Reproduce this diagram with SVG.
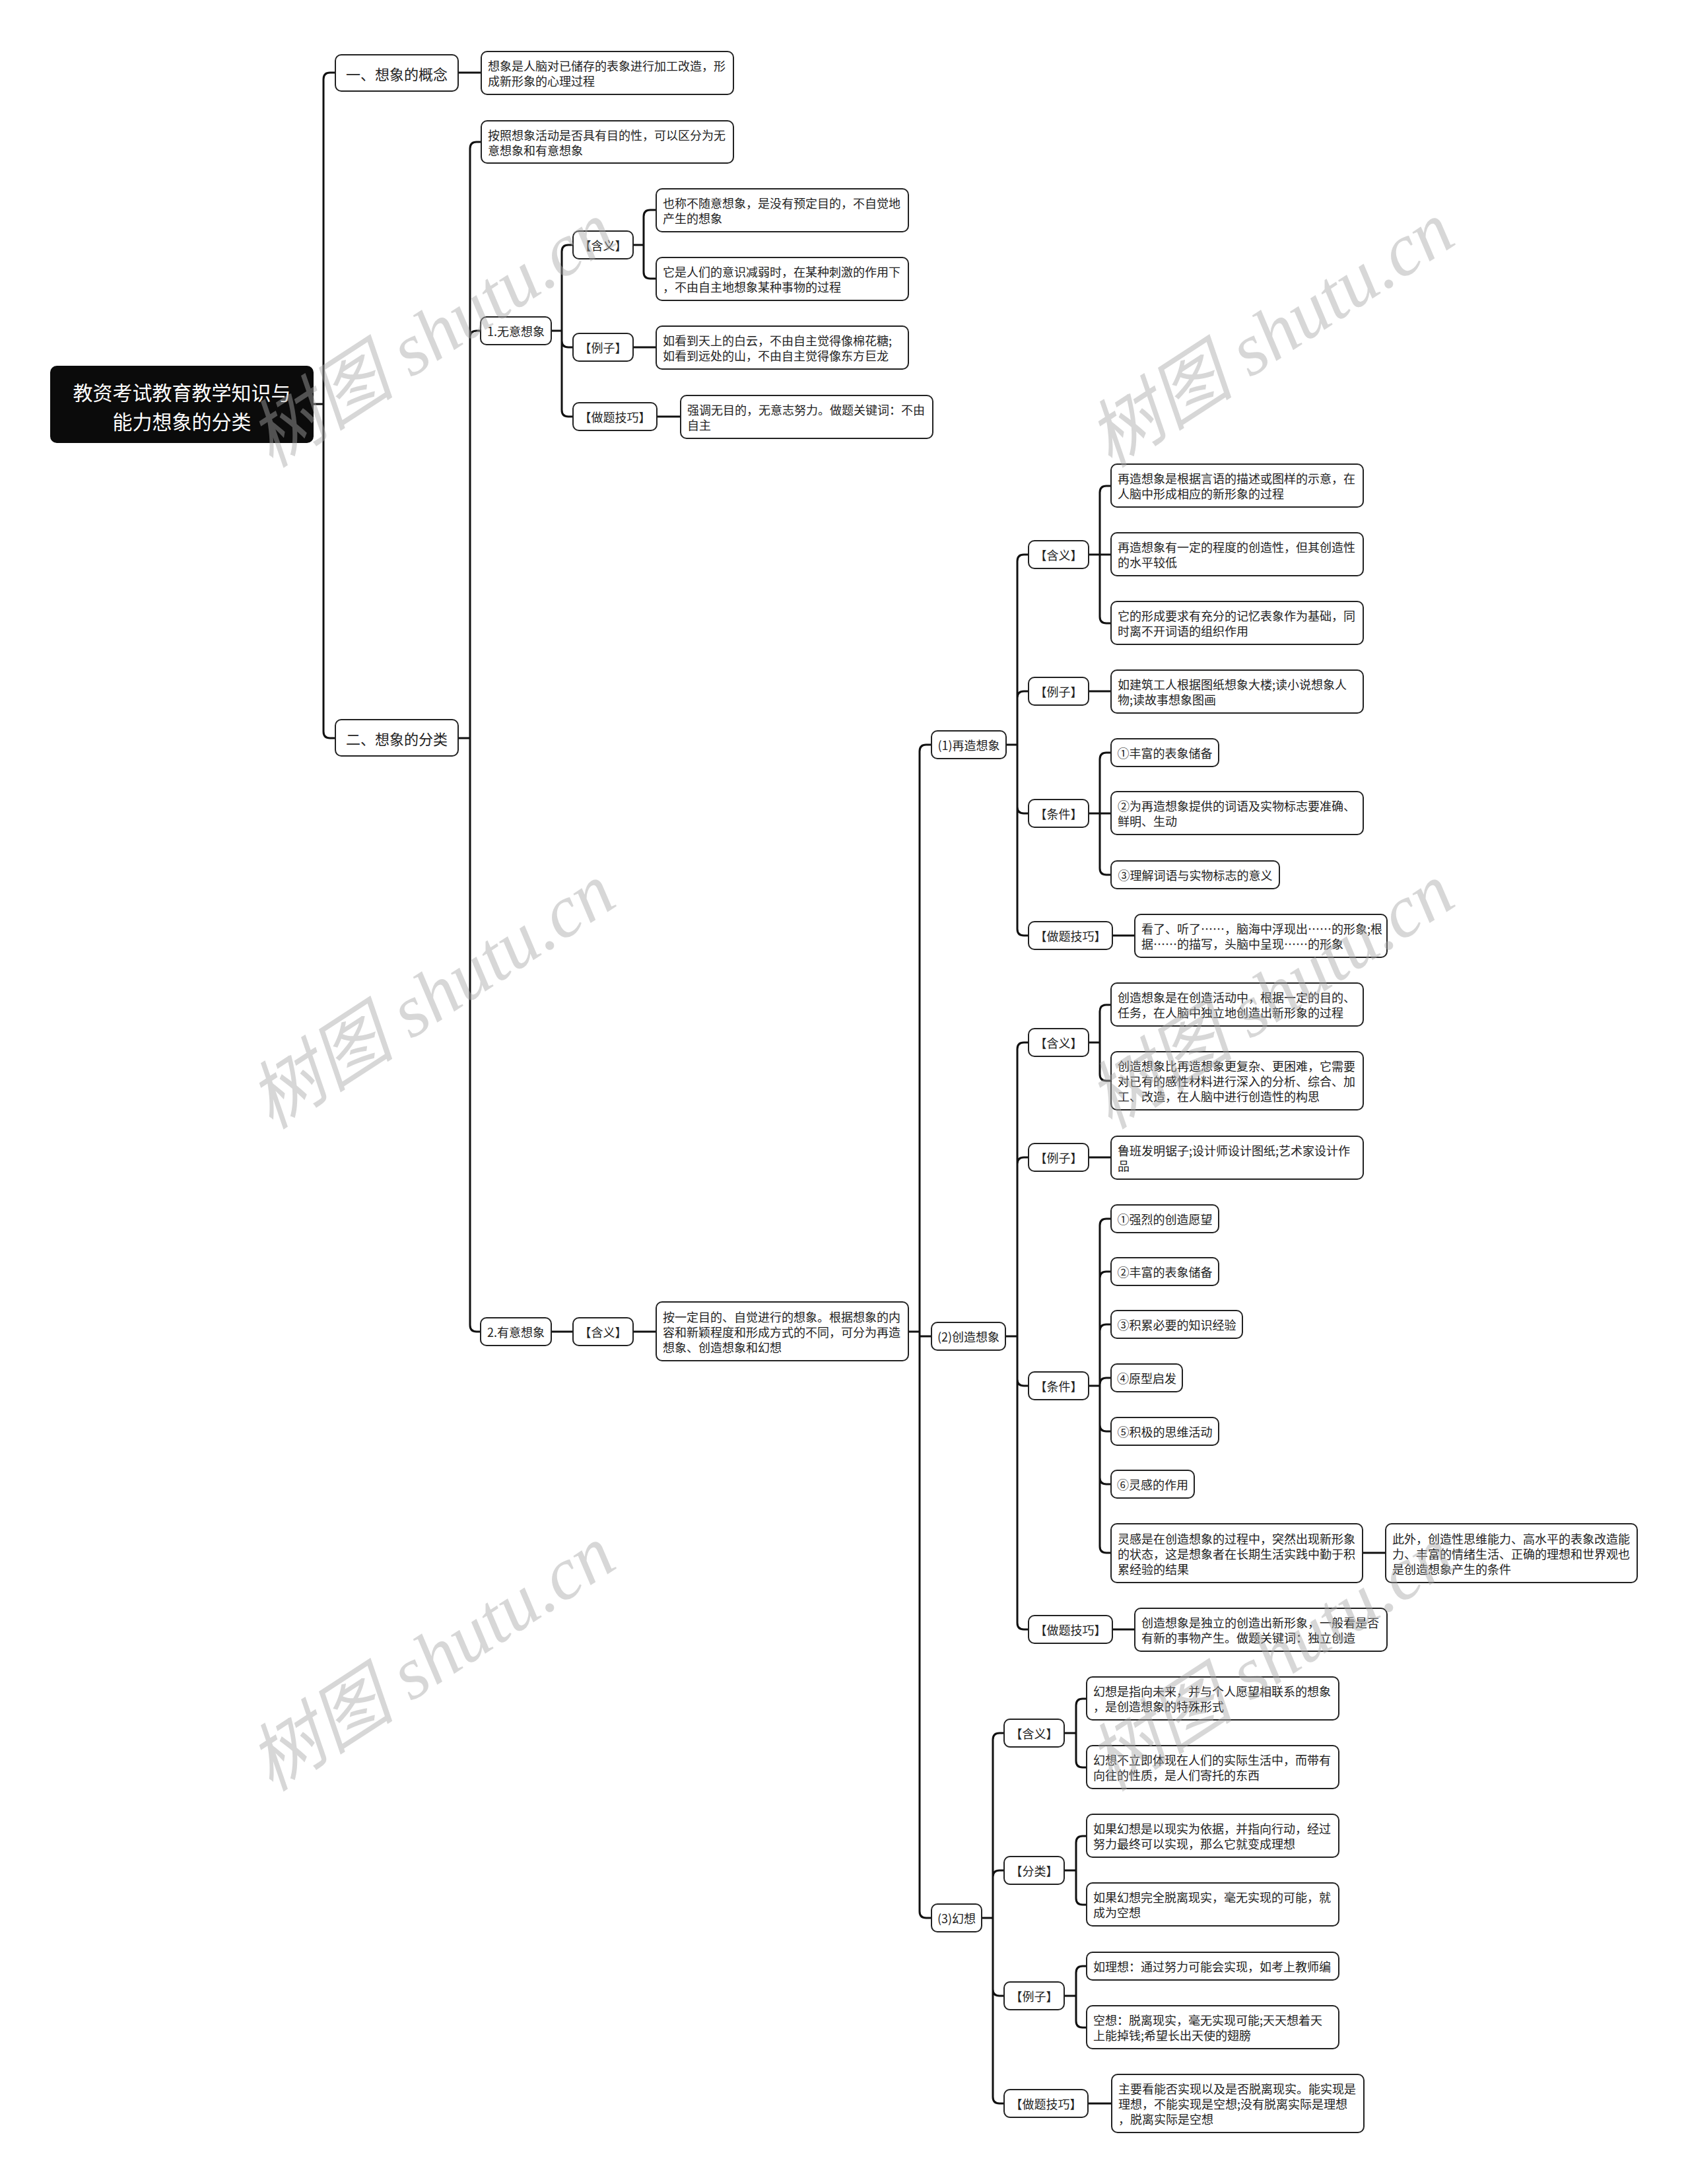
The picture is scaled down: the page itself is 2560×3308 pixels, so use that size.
<svg xmlns="http://www.w3.org/2000/svg" width="2560" height="3308" viewBox="0 0 2560 3308">
<style>
.bg{fill:#fff}
.box{fill:#fff;stroke:#222;stroke-width:2}
.root{fill:#0b0b0b;stroke:#0b0b0b;stroke-width:2}
.t{font-family:"Noto Sans CJK SC","Noto Sans",sans-serif;font-size:18px;fill:#222;dominant-baseline:central}
.m{text-anchor:middle}
.big{font-size:22px}
.rt{font-family:"Noto Sans CJK SC","Noto Sans",sans-serif;font-size:30px;fill:#fff;text-anchor:middle;dominant-baseline:central}
.lk{fill:none;stroke:#111;stroke-width:3}
.wm{font-family:"Liberation Serif","Noto Sans CJK SC",serif;font-style:italic;font-size:112px;fill:#a8a8a8;opacity:0.45;text-anchor:middle;dominant-baseline:central}
</style>
<rect class="bg" x="0" y="0" width="2560" height="3308"/>
<g id="connectors">
<path class="lk" d="M474 612 H490 M490 612 V120 Q490 110 500 110 H508 M490 612 V1108 Q490 1118 500 1118 H508"/>
<path class="lk" d="M694 110 H729"/>
<path class="lk" d="M694 1118 H712 M712 1118 V225 Q712 215 722 215 H729 M712 1118 V511 Q712 501 722 501 H728 M712 1118 V2007 Q712 2017 722 2017 H728"/>
<path class="lk" d="M835 501 H851 M851 501 V381 Q851 371 861 371 H868 M851 501 V516 Q851 526 861 526 H868 M851 501 V621 Q851 631 861 631 H868"/>
<path class="lk" d="M959 371 H975 M975 371 V328 Q975 318 985 318 H994 M975 371 V412 Q975 422 985 422 H994"/>
<path class="lk" d="M959 526 H994"/>
<path class="lk" d="M995 631 H1031"/>
<path class="lk" d="M835 2017 H868"/>
<path class="lk" d="M959 2017 H994"/>
<path class="lk" d="M1376 2017 H1393 M1393 2017 V1138 Q1393 1128 1403 1128 H1411 M1393 2017 V2024 H1411 M1393 2017 V2895 Q1393 2905 1403 2905 H1411"/>
<path class="lk" d="M1524 1128 H1541 M1541 1128 V850 Q1541 840 1551 840 H1558 M1541 1128 V1057 Q1541 1047 1551 1047 H1558 M1541 1128 V1222 Q1541 1232 1551 1232 H1558 M1541 1128 V1407 Q1541 1417 1551 1417 H1558"/>
<path class="lk" d="M1649 840 H1666 M1666 840 V746 Q1666 736 1676 736 H1683 M1666 840 H1683 M1666 840 V934 Q1666 944 1676 944 H1683"/>
<path class="lk" d="M1649 1047 H1683"/>
<path class="lk" d="M1649 1232 H1666 M1666 1232 V1150 Q1666 1140 1676 1140 H1683 M1666 1232 H1683 M1666 1232 V1315 Q1666 1325 1676 1325 H1683"/>
<path class="lk" d="M1685 1417 H1719"/>
<path class="lk" d="M1523 2024 H1541 M1541 2024 V1589 Q1541 1579 1551 1579 H1558 M1541 2024 V1763 Q1541 1753 1551 1753 H1558 M1541 2024 V2089 Q1541 2099 1551 2099 H1558 M1541 2024 V2458 Q1541 2468 1551 2468 H1558"/>
<path class="lk" d="M1649 1579 H1666 M1666 1579 V1532 Q1666 1522 1676 1522 H1683 M1666 1579 V1627 Q1666 1637 1676 1637 H1683"/>
<path class="lk" d="M1649 1753 H1683"/>
<path class="lk" d="M1649 2099 H1666 M1666 2099 V1856 Q1666 1846 1676 1846 H1683 M1666 2099 V1936 Q1666 1926 1676 1926 H1683 M1666 2099 V2016 Q1666 2006 1676 2006 H1683 M1666 2099 V2097 Q1666 2087 1676 2087 H1683 M1666 2099 V2158 Q1666 2168 1676 2168 H1683 M1666 2099 V2238 Q1666 2248 1676 2248 H1683 M1666 2099 V2342 Q1666 2352 1676 2352 H1683"/>
<path class="lk" d="M2064 2352 H2099"/>
<path class="lk" d="M1685 2468 H1719"/>
<path class="lk" d="M1487 2905 H1504 M1504 2905 V2635 Q1504 2625 1514 2625 H1521 M1504 2905 V2843 Q1504 2833 1514 2833 H1521 M1504 2905 V3013 Q1504 3023 1514 3023 H1521 M1504 2905 V3176 Q1504 3186 1514 3186 H1521"/>
<path class="lk" d="M1612 2625 H1630 M1630 2625 V2583 Q1630 2573 1640 2573 H1646 M1630 2625 V2667 Q1630 2677 1640 2677 H1646"/>
<path class="lk" d="M1612 2833 H1630 M1630 2833 V2791 Q1630 2781 1640 2781 H1646 M1630 2833 V2875 Q1630 2885 1640 2885 H1646"/>
<path class="lk" d="M1612 3023 H1630 M1630 3023 V2988 Q1630 2978 1640 2978 H1646 M1630 3023 V3061 Q1630 3071 1640 3071 H1646"/>
<path class="lk" d="M1648 3186 H1684"/>
</g>
<g id="root"><rect class="root" x="77" y="555" width="397" height="115" rx="9"/><text class="rt" x="275.5" y="593">教资考试教育教学知识与</text><text class="rt" x="275.5" y="637">能力想象的分类</text></g>
<g id="n1"><rect class="box" x="508" y="83" width="186" height="55" rx="9"/><text class="t m big" x="601" y="110.5">一、想象的概念</text></g>
<g id="n1a"><rect class="box" x="729" y="78" width="382" height="65" rx="9"/><text class="t" x="739" y="99">想象是人脑对已储存的表象进行加工改造，形</text><text class="t" x="739" y="122">成新形象的心理过程</text></g>
<g id="n2"><rect class="box" x="508" y="1090" width="186" height="55" rx="9"/><text class="t m big" x="601" y="1117.5">二、想象的分类</text></g>
<g id="n2a"><rect class="box" x="729" y="183" width="382" height="64" rx="9"/><text class="t" x="739" y="203.5">按照想象活动是否具有目的性，可以区分为无</text><text class="t" x="739" y="226.5">意想象和有意想象</text></g>
<g id="n21"><rect class="box" x="728" y="480" width="107" height="42" rx="9"/><text class="t m" x="781.5" y="501">1.无意想象</text></g>
<g id="n211"><rect class="box" x="868" y="350" width="91" height="42" rx="9"/><text class="t m" x="913.5" y="371">【含义】</text></g>
<g id="n2111"><rect class="box" x="994" y="286" width="382" height="65" rx="9"/><text class="t" x="1004" y="307">也称不随意想象，是没有预定目的，不自觉地</text><text class="t" x="1004" y="330">产生的想象</text></g>
<g id="n2112"><rect class="box" x="994" y="390" width="382" height="65" rx="9"/><text class="t" x="1004" y="411">它是人们的意识减弱时，在某种刺激的作用下</text><text class="t" x="1004" y="434">，不由自主地想象某种事物的过程</text></g>
<g id="n212"><rect class="box" x="868" y="505" width="91" height="42" rx="9"/><text class="t m" x="913.5" y="526">【例子】</text></g>
<g id="n2121"><rect class="box" x="994" y="494" width="382" height="65" rx="9"/><text class="t" x="1004" y="515">如看到天上的白云，不由自主觉得像棉花糖;</text><text class="t" x="1004" y="538">如看到远处的山，不由自主觉得像东方巨龙</text></g>
<g id="n213"><rect class="box" x="868" y="610" width="127" height="42" rx="9"/><text class="t m" x="931.5" y="631">【做题技巧】</text></g>
<g id="n2131"><rect class="box" x="1031" y="599" width="382" height="65" rx="9"/><text class="t" x="1041" y="620">强调无目的，无意志努力。做题关键词：不由</text><text class="t" x="1041" y="643">自主</text></g>
<g id="n22"><rect class="box" x="728" y="1996" width="107" height="42" rx="9"/><text class="t m" x="781.5" y="2017">2.有意想象</text></g>
<g id="n221"><rect class="box" x="868" y="1996" width="91" height="42" rx="9"/><text class="t m" x="913.5" y="2017">【含义】</text></g>
<g id="n2211"><rect class="box" x="994" y="1972" width="382" height="89" rx="9"/><text class="t" x="1004" y="1994">按一定目的、自觉进行的想象。根据想象的内</text><text class="t" x="1004" y="2017">容和新颖程度和形成方式的不同，可分为再造</text><text class="t" x="1004" y="2040">想象、创造想象和幻想</text></g>
<g id="r1"><rect class="box" x="1411" y="1107" width="113" height="42" rx="9"/><text class="t m" x="1467.5" y="1128">(1)再造想象</text></g>
<g id="r1a"><rect class="box" x="1558" y="819" width="91" height="42" rx="9"/><text class="t m" x="1603.5" y="840">【含义】</text></g>
<g id="r1a1"><rect class="box" x="1683" y="703" width="382" height="65" rx="9"/><text class="t" x="1693" y="724">再造想象是根据言语的描述或图样的示意，在</text><text class="t" x="1693" y="747">人脑中形成相应的新形象的过程</text></g>
<g id="r1a2"><rect class="box" x="1683" y="807" width="382" height="65" rx="9"/><text class="t" x="1693" y="828">再造想象有一定的程度的创造性，但其创造性</text><text class="t" x="1693" y="851">的水平较低</text></g>
<g id="r1a3"><rect class="box" x="1683" y="911" width="382" height="65" rx="9"/><text class="t" x="1693" y="932">它的形成要求有充分的记忆表象作为基础，同</text><text class="t" x="1693" y="955">时离不开词语的组织作用</text></g>
<g id="r1b"><rect class="box" x="1558" y="1026" width="91" height="42" rx="9"/><text class="t m" x="1603.5" y="1047">【例子】</text></g>
<g id="r1b1"><rect class="box" x="1683" y="1015" width="382" height="65" rx="9"/><text class="t" x="1693" y="1036">如建筑工人根据图纸想象大楼;读小说想象人</text><text class="t" x="1693" y="1059">物;读故事想象图画</text></g>
<g id="r1c"><rect class="box" x="1558" y="1211" width="91" height="42" rx="9"/><text class="t m" x="1603.5" y="1232">【条件】</text></g>
<g id="r1c1"><rect class="box" x="1683" y="1119" width="163" height="42" rx="9"/><text class="t m" x="1764.5" y="1140">①丰富的表象储备</text></g>
<g id="r1c2"><rect class="box" x="1683" y="1199" width="382" height="65" rx="9"/><text class="t" x="1693" y="1220">②为再造想象提供的词语及实物标志要准确、</text><text class="t" x="1693" y="1243">鲜明、生动</text></g>
<g id="r1c3"><rect class="box" x="1683" y="1304" width="255" height="42" rx="9"/><text class="t m" x="1810.5" y="1325">③理解词语与实物标志的意义</text></g>
<g id="r1d"><rect class="box" x="1558" y="1396" width="127" height="42" rx="9"/><text class="t m" x="1621.5" y="1417">【做题技巧】</text></g>
<g id="r1d1"><rect class="box" x="1719" y="1385" width="382" height="65" rx="9"/><text class="t" x="1729" y="1406">看了、听了……，脑海中浮现出……的形象;根</text><text class="t" x="1729" y="1429">据……的描写，头脑中呈现……的形象</text></g>
<g id="r2"><rect class="box" x="1411" y="2003" width="112" height="42" rx="9"/><text class="t m" x="1467" y="2024">(2)创造想象</text></g>
<g id="r2a"><rect class="box" x="1558" y="1558" width="91" height="42" rx="9"/><text class="t m" x="1603.5" y="1579">【含义】</text></g>
<g id="r2a1"><rect class="box" x="1683" y="1489" width="382" height="65" rx="9"/><text class="t" x="1693" y="1510">创造想象是在创造活动中，根据一定的目的、</text><text class="t" x="1693" y="1533">任务，在人脑中独立地创造出新形象的过程</text></g>
<g id="r2a2"><rect class="box" x="1683" y="1593" width="382" height="88" rx="9"/><text class="t" x="1693" y="1614">创造想象比再造想象更复杂、更困难，它需要</text><text class="t" x="1693" y="1637">对已有的感性材料进行深入的分析、综合、加</text><text class="t" x="1693" y="1660">工、改造，在人脑中进行创造性的构思</text></g>
<g id="r2b"><rect class="box" x="1558" y="1732" width="91" height="42" rx="9"/><text class="t m" x="1603.5" y="1753">【例子】</text></g>
<g id="r2b1"><rect class="box" x="1683" y="1721" width="382" height="65" rx="9"/><text class="t" x="1693" y="1742">鲁班发明锯子;设计师设计图纸;艺术家设计作</text><text class="t" x="1693" y="1765">品</text></g>
<g id="r2c"><rect class="box" x="1558" y="2078" width="91" height="42" rx="9"/><text class="t m" x="1603.5" y="2099">【条件】</text></g>
<g id="r2c1"><rect class="box" x="1683" y="1825" width="163" height="42" rx="9"/><text class="t m" x="1764.5" y="1846">①强烈的创造愿望</text></g>
<g id="r2c2"><rect class="box" x="1683" y="1905" width="163" height="42" rx="9"/><text class="t m" x="1764.5" y="1926">②丰富的表象储备</text></g>
<g id="r2c3"><rect class="box" x="1683" y="1985" width="199" height="42" rx="9"/><text class="t m" x="1782.5" y="2006">③积累必要的知识经验</text></g>
<g id="r2c4"><rect class="box" x="1683" y="2066" width="108" height="42" rx="9"/><text class="t m" x="1737" y="2087">④原型启发</text></g>
<g id="r2c5"><rect class="box" x="1683" y="2147" width="163" height="42" rx="9"/><text class="t m" x="1764.5" y="2168">⑤积极的思维活动</text></g>
<g id="r2c6"><rect class="box" x="1683" y="2227" width="126" height="42" rx="9"/><text class="t m" x="1746" y="2248">⑥灵感的作用</text></g>
<g id="r2c7"><rect class="box" x="1683" y="2308" width="381" height="89" rx="9"/><text class="t" x="1693" y="2330">灵感是在创造想象的过程中，突然出现新形象</text><text class="t" x="1693" y="2353">的状态，这是想象者在长期生活实践中勤于积</text><text class="t" x="1693" y="2376">累经验的结果</text></g>
<g id="r2c71"><rect class="box" x="2099" y="2308" width="381" height="89" rx="9"/><text class="t" x="2109" y="2330">此外，创造性思维能力、高水平的表象改造能</text><text class="t" x="2109" y="2353">力、丰富的情绪生活、正确的理想和世界观也</text><text class="t" x="2109" y="2376">是创造想象产生的条件</text></g>
<g id="r2d"><rect class="box" x="1558" y="2447" width="127" height="42" rx="9"/><text class="t m" x="1621.5" y="2468">【做题技巧】</text></g>
<g id="r2d1"><rect class="box" x="1719" y="2436" width="382" height="65" rx="9"/><text class="t" x="1729" y="2457">创造想象是独立的创造出新形象，一般看是否</text><text class="t" x="1729" y="2480">有新的事物产生。做题关键词：独立创造</text></g>
<g id="r3"><rect class="box" x="1411" y="2884" width="76" height="42" rx="9"/><text class="t m" x="1449" y="2905">(3)幻想</text></g>
<g id="r3a"><rect class="box" x="1521" y="2604" width="91" height="42" rx="9"/><text class="t m" x="1566.5" y="2625">【含义】</text></g>
<g id="r3a1"><rect class="box" x="1646" y="2540" width="382" height="65" rx="9"/><text class="t" x="1656" y="2561">幻想是指向未来，并与个人愿望相联系的想象</text><text class="t" x="1656" y="2584">，是创造想象的特殊形式</text></g>
<g id="r3a2"><rect class="box" x="1646" y="2644" width="382" height="65" rx="9"/><text class="t" x="1656" y="2665">幻想不立即体现在人们的实际生活中，而带有</text><text class="t" x="1656" y="2688">向往的性质，是人们寄托的东西</text></g>
<g id="r3b"><rect class="box" x="1521" y="2812" width="91" height="42" rx="9"/><text class="t m" x="1566.5" y="2833">【分类】</text></g>
<g id="r3b1"><rect class="box" x="1646" y="2748" width="382" height="65" rx="9"/><text class="t" x="1656" y="2769">如果幻想是以现实为依据，并指向行动，经过</text><text class="t" x="1656" y="2792">努力最终可以实现，那么它就变成理想</text></g>
<g id="r3b2"><rect class="box" x="1646" y="2852" width="382" height="65" rx="9"/><text class="t" x="1656" y="2873">如果幻想完全脱离现实，毫无实现的可能，就</text><text class="t" x="1656" y="2896">成为空想</text></g>
<g id="r3c"><rect class="box" x="1521" y="3002" width="91" height="42" rx="9"/><text class="t m" x="1566.5" y="3023">【例子】</text></g>
<g id="r3c1"><rect class="box" x="1646" y="2957" width="382" height="42" rx="9"/><text class="t" x="1656" y="2978">如理想：通过努力可能会实现，如考上教师编</text></g>
<g id="r3c2"><rect class="box" x="1646" y="3038" width="382" height="65" rx="9"/><text class="t" x="1656" y="3059">空想：脱离现实，毫无实现可能;天天想着天</text><text class="t" x="1656" y="3082">上能掉钱;希望长出天使的翅膀</text></g>
<g id="r3d"><rect class="box" x="1521" y="3165" width="127" height="42" rx="9"/><text class="t m" x="1584.5" y="3186">【做题技巧】</text></g>
<g id="r3d1"><rect class="box" x="1684" y="3142" width="382" height="88" rx="9"/><text class="t" x="1694" y="3163">主要看能否实现以及是否脱离现实。能实现是</text><text class="t" x="1694" y="3186">理想，不能实现是空想;没有脱离实际是理想</text><text class="t" x="1694" y="3209">，脱离实际是空想</text></g>
<g id="watermarks">
<text class="wm" transform="translate(654 507) rotate(-33)">树图 shutu.cn</text>
<text class="wm" transform="translate(1925 507) rotate(-33)">树图 shutu.cn</text>
<text class="wm" transform="translate(654 1509) rotate(-33)">树图 shutu.cn</text>
<text class="wm" transform="translate(1925 1509) rotate(-33)">树图 shutu.cn</text>
<text class="wm" transform="translate(654 2512) rotate(-33)">树图 shutu.cn</text>
<text class="wm" transform="translate(1925 2512) rotate(-33)">树图 shutu.cn</text>
</g>
</svg>
